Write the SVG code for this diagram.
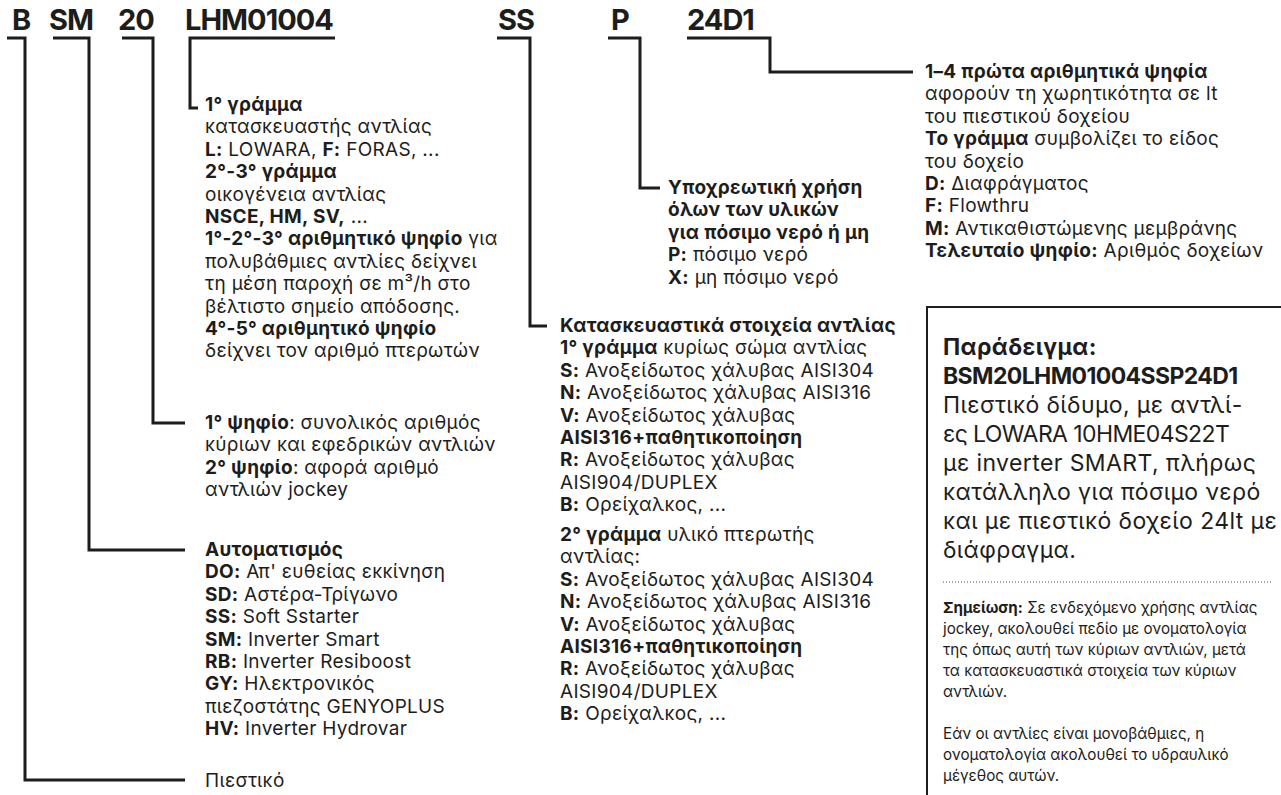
<svg xmlns="http://www.w3.org/2000/svg" width="1281" height="795" viewBox="0 0 1281 795">
<style>
text { font-family: Inter, "Noto Sans", "DejaVu Sans", sans-serif; fill: #1d1d1b; }
.t { font-size: 19px; letter-spacing: 0.3px; }
.b { font-weight: 700; }
.h { font-size: 29px; font-weight: 700; letter-spacing: -1px; }
.ex { font-size: 23px; letter-spacing: 0.4px; }
.tight { letter-spacing: -0.6px; }
.n { font-size: 15.2px; }
.c { fill: none; stroke: #1d1d1b; stroke-width: 3; }
.frame { fill: none; stroke: #1d1d1b; stroke-width: 2; }
.dot { stroke: #555; stroke-width: 1; stroke-dasharray: 1 2; }
</style>
<rect width="1281" height="795" fill="#ffffff"/>

<g id="header">
<text class="h" x="12" y="30">B</text>
<text class="h" x="49" y="30">SM</text>
<text class="h" x="118" y="30">20</text>
<text class="h" x="185" y="30">LHM01004</text>
<text class="h" x="498" y="30">SS</text>
<text class="h" x="611" y="30">P</text>
<text class="h" x="687" y="30">24D1</text>
</g>

<g id="connectors">
<path class="c" d="M7 38 H25 V780 H185"/>
<path class="c" d="M53 38 H89 V550 H185"/>
<path class="c" d="M122 38 H153 V423 H185"/>
<path class="c" d="M335 38 H190 V108 H198"/>
<path class="c" d="M497 38 H530 V326 H547"/>
<path class="c" d="M608 38 H640 V188 H660"/>
<path class="c" d="M687 38 H770 V72 H913"/>
</g>

<g id="node-pump" class="t">
<text x="205" y="111"><tspan class="b">1°  γράμμα</tspan></text>
<text x="205" y="133.4">κατασκευαστής αντλίας</text>
<text x="205" y="155.8"><tspan class="b">L:</tspan> LOWARA, <tspan class="b">F:</tspan> FORAS, ...</text>
<text x="205" y="178.2"><tspan class="b">2°-3° γράμμα</tspan></text>
<text x="205" y="200.6">οικογένεια αντλίας</text>
<text x="205" y="223"><tspan class="b">NSCE, HM, SV,</tspan> ...</text>
<text x="205" y="245.4"><tspan class="b">1°-2°-3° αριθμητικό ψηφίο</tspan> για</text>
<text x="205" y="267.8">πολυβάθμιες αντλίες δείχνει</text>
<text x="205" y="290.2">τη μέση παροχή σε m³/h στο</text>
<text x="205" y="312.6">βέλτιστο σημείο απόδοσης.</text>
<text x="205" y="335"><tspan class="b">4°-5° αριθμητικό ψηφίο</tspan></text>
<text x="205" y="357.4">δείχνει τον αριθμό πτερωτών</text>
</g>

<g id="node-count" class="t">
<text x="205" y="429"><tspan class="b">1° ψηφίο</tspan>: συνολικός αριθμός</text>
<text x="205" y="451.4">κύριων και εφεδρικών αντλιών</text>
<text x="205" y="473.8"><tspan class="b">2° ψηφίο</tspan>: αφορά αριθμό</text>
<text x="205" y="496.2">αντλιών jockey</text>
</g>

<g id="node-automation" class="t">
<text x="205" y="556"><tspan class="b">Αυτοματισμός</tspan></text>
<text x="205" y="578.4"><tspan class="b">DO:</tspan> Απ' ευθείας εκκίνηση</text>
<text x="205" y="600.8"><tspan class="b">SD:</tspan> Αστέρα-Τρίγωνο</text>
<text x="205" y="623.2"><tspan class="b">SS:</tspan> Soft Sstarter</text>
<text x="205" y="645.6"><tspan class="b">SM:</tspan> Inverter Smart</text>
<text x="205" y="668"><tspan class="b">RB:</tspan> Inverter Resiboost</text>
<text x="205" y="690.4"><tspan class="b">GY:</tspan> Ηλεκτρονικός</text>
<text x="205" y="712.8">πιεζοστάτης GENYOPLUS</text>
<text x="205" y="735.2"><tspan class="b">HV:</tspan> Inverter Hydrovar</text>
</g>

<g id="node-pressure" class="t">
<text x="205" y="787">Πιεστικό</text>
</g>

<g id="node-materials" class="t">
<text x="560" y="332"><tspan class="b">Κατασκευαστικά στοιχεία αντλίας</tspan></text>
<text x="560" y="354.4"><tspan class="b">1° γράμμα</tspan> κυρίως σώμα αντλίας</text>
<text x="560" y="376.8"><tspan class="b">S:</tspan> Ανοξείδωτος χάλυβας AISI304</text>
<text x="560" y="399.2"><tspan class="b">N:</tspan> Ανοξείδωτος χάλυβας AISI316</text>
<text x="560" y="421.6"><tspan class="b">V:</tspan> Ανοξείδωτος χάλυβας</text>
<text x="560" y="444"><tspan class="b">AISI316+παθητικοποίηση</tspan></text>
<text x="560" y="466.4"><tspan class="b">R:</tspan> Ανοξείδωτος χάλυβας</text>
<text x="560" y="488.8">AISI904/DUPLEX</text>
<text x="560" y="511.2"><tspan class="b">B:</tspan> Ορείχαλκος, ...</text>
<text x="560" y="541"><tspan class="b">2° γράμμα</tspan> υλικό πτερωτής</text>
<text x="560" y="563.4">αντλίας:</text>
<text x="560" y="585.8"><tspan class="b">S:</tspan> Ανοξείδωτος χάλυβας AISI304</text>
<text x="560" y="608.2"><tspan class="b">N:</tspan> Ανοξείδωτος χάλυβας AISI316</text>
<text x="560" y="630.6"><tspan class="b">V:</tspan> Ανοξείδωτος χάλυβας</text>
<text x="560" y="653"><tspan class="b">AISI316+παθητικοποίηση</tspan></text>
<text x="560" y="675.4"><tspan class="b">R:</tspan> Ανοξείδωτος χάλυβας</text>
<text x="560" y="697.8">AISI904/DUPLEX</text>
<text x="560" y="720.2"><tspan class="b">B:</tspan> Ορείχαλκος, ...</text>
</g>

<g id="node-potable" class="t">
<text x="668" y="194"><tspan class="b">Υποχρεωτική χρήση</tspan></text>
<text x="668" y="216.4"><tspan class="b">όλων των υλικών</tspan></text>
<text x="668" y="238.8"><tspan class="b">για πόσιμο νερό ή μη</tspan></text>
<text x="668" y="261.2"><tspan class="b">P:</tspan> πόσιμο νερό</text>
<text x="668" y="283.6"><tspan class="b">X:</tspan> μη πόσιμο νερό</text>
</g>

<g id="node-tank" class="t">
<text x="925" y="78"><tspan class="b">1–4 πρώτα αριθμητικά ψηφία</tspan></text>
<text x="925" y="100.4">αφορούν τη χωρητικότητα σε lt</text>
<text x="925" y="122.8">του πιεστικού δοχείου</text>
<text x="925" y="145.2"><tspan class="b">Το γράμμα</tspan> συμβολίζει το είδος</text>
<text x="925" y="167.6">του δοχείο</text>
<text x="925" y="190"><tspan class="b">D:</tspan> Διαφράγματος</text>
<text x="925" y="212.4"><tspan class="b">F:</tspan> Flowthru</text>
<text x="925" y="234.8"><tspan class="b">M:</tspan> Αντικαθιστώμενης μεμβράνης</text>
<text x="925" y="257.2"><tspan class="b">Τελευταίο ψηφίο:</tspan> Αριθμός δοχείων</text>
</g>

<g id="node-example">
<rect class="frame" x="927" y="307" width="370" height="500"/>
<text class="ex b" x="943" y="355">Παράδειγμα:</text>
<text class="ex b tight" x="943" y="384">BSM20LHM01004SSP24D1</text>
<text class="ex" x="943" y="413">Πιεστικό δίδυμο, με αντλί-</text>
<text class="ex tight" x="943" y="442">ες LOWARA 10HME04S22T</text>
<text class="ex" x="943" y="471">με inverter SMART, πλήρως</text>
<text class="ex" x="943" y="500">κατάλληλο για πόσιμο νερό</text>
<text class="ex" x="943" y="529">και με πιεστικό δοχείο 24lt με</text>
<text class="ex" x="943" y="558">διάφραγμα.</text>
<line class="dot" x1="943" y1="582" x2="1273" y2="582"/>
<text class="n" x="943" y="613"><tspan class="b">Σημείωση:</tspan> Σε ενδεχόμενο χρήσης αντλίας</text>
<text class="n" x="943" y="634">jockey, ακολουθεί πεδίο με ονοματολογία</text>
<text class="n" x="943" y="655">της όπως αυτή των κύριων αντλιών, μετά</text>
<text class="n" x="943" y="676">τα κατασκευαστικά στοιχεία των κύριων</text>
<text class="n" x="943" y="697">αντλιών.</text>
<text class="n" x="943" y="739">Εάν οι αντλίες είναι μονοβάθμιες, η</text>
<text class="n" x="943" y="760">ονοματολογία ακολουθεί το υδραυλικό</text>
<text class="n" x="943" y="781">μέγεθος αυτών.</text>
</g>
</svg>
